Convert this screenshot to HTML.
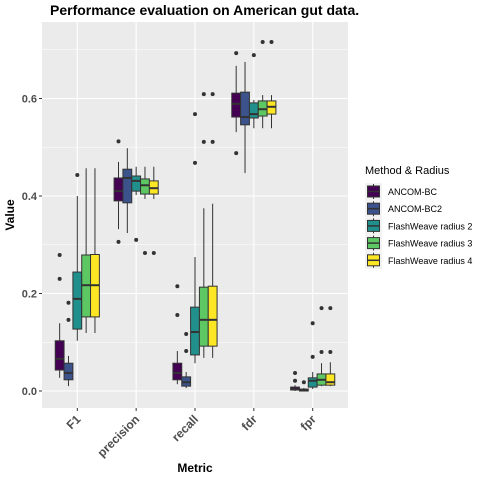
<!DOCTYPE html>
<html><head><meta charset="utf-8"><style>
body{margin:0;background:#fff;font-family:"Liberation Sans",sans-serif}
</style></head><body>
<svg id="c" width="480" height="480" xmlns="http://www.w3.org/2000/svg"></svg>
<script>
const categories=["F1","precision","recall","fdr","fpr"];
const methods=["ANCOM-BC","ANCOM-BC2","FlashWeave radius 2","FlashWeave radius 3","FlashWeave radius 4"];
const colors=["#440154","#3B528B","#21908C","#5DC863","#FDE725"];
const yTicks=[0,0.2,0.4,0.6];
// [whiskerLow, q1, median, q3, whiskerHigh] per category per method
const statsF1=[[0.027,0.043,0.066,0.103,0.139],[0.010,0.023,0.037,0.057,0.072],[0.103,0.127,0.189,0.244,0.400],[0.119,0.152,0.217,0.279,0.457],[0.119,0.152,0.217,0.280,0.457]];
const statsPrecision=[[0.332,0.390,0.410,0.437,0.470],[0.324,0.386,0.437,0.455,0.498],[0.402,0.410,0.431,0.441,0.460],[0.394,0.404,0.422,0.435,0.460],[0.394,0.404,0.416,0.431,0.460]];
const statsRecall=[[0.014,0.023,0.037,0.057,0.082],[0.006,0.010,0.018,0.029,0.039],[0.057,0.074,0.121,0.172,0.275],[0.068,0.092,0.146,0.213,0.375],[0.068,0.092,0.146,0.215,0.384]];
const statsFdr=[[0.531,0.562,0.589,0.611,0.667],[0.447,0.546,0.562,0.613,0.675],[0.539,0.560,0.568,0.591,0.597],[0.539,0.564,0.578,0.595,0.607],[0.539,0.568,0.583,0.595,0.607]];
const statsFpr=[[0.0,0.002,0.004,0.008,0.012],[0.0,0.0,0.002,0.004,0.006],[0.004,0.008,0.021,0.027,0.039],[0.010,0.012,0.023,0.035,0.057],[0.010,0.012,0.018,0.035,0.059]];
const outF1=[[0.279,0.230],[0.181,0.146],[0.443],[],[]];
const outPrecision=[[0.512,0.306],[],[0.310],[0.283],[0.283]];
const outRecall=[[0.215,0.156],[0.117,0.082],[0.568,0.468],[0.609,0.511],[0.609,0.511]];
const outFdr=[[0.693,0.488],[],[0.689],[0.716],[0.716]];
const outFpr=[[0.037,0.021],[0.018],[0.139,0.070],[0.170,0.080],[0.170,0.080]];
const allStats=[statsF1,statsPrecision,statsRecall,statsFdr,statsFpr];
const allOut=[outF1,outPrecision,outRecall,outFdr,outFpr];

const svg=document.getElementById('c');
const NS="http://www.w3.org/2000/svg";
function mk(t,a,p){const e=document.createElementNS(NS,t);for(const k in a)e.setAttribute(k,a[k]);(p||svg).appendChild(e);return e;}
const L=42,R=348,T=22,B=408;
const unit=(R-L)/(categories.length-1+1.2);
const x=i=>L+(i+0.6)*unit;
const y=v=>391-v*487.5;
const bg=mk('rect',{x:L,y:T,width:R-L,height:B-T,fill:'#EBEBEB'});


for(let v=-0.1;v<=0.75;v+=0.2){const yy=y(v);if(yy>T&&yy<B){const g=mk('line',{x1:L,x2:R,y1:yy,y2:yy,stroke:'#fff','stroke-width':0.5});}}
yTicks.forEach(v=>{const g=mk('line',{x1:L,x2:R,y1:y(v),y2:y(v),stroke:'#fff','stroke-width':1.1});

mk('line',{x1:L-3,x2:L,y1:y(v),y2:y(v),stroke:'#333'});
const t=mk('text',{x:L-5,y:y(v)+4,'text-anchor':'end','font-size':11,'font-weight':'bold',fill:'#4D4D4D'});t.textContent=v.toFixed(1);
});
categories.forEach((c,i)=>{const g=mk('line',{x1:x(i),x2:x(i),y1:T,y2:B,stroke:'#fff','stroke-width':1.1});

mk('line',{x1:x(i),x2:x(i),y1:B,y2:B+3,stroke:'#333'});
const t=mk('text',{x:x(i)+4,y:B+12,'text-anchor':'end','font-size':12,'font-weight':'bold',fill:'#4D4D4D',transform:`rotate(-45 ${x(i)+4} ${B+12})`});t.textContent=c;
});
const bw=unit*0.75/methods.length;
allStats.forEach((cs,i)=>{cs.forEach((s,m)=>{
 const cx=x(i)+(m-2)*bw;
 const g=mk('g',{});
 
 
 mk('line',{x1:cx,x2:cx,y1:y(s[0]),y2:y(s[4]),stroke:'#333','stroke-width':1},g);
 mk('rect',{x:cx-bw/2,y:y(s[3]),width:bw,height:Math.max(0.5,y(s[1])-y(s[3])),fill:colors[m],stroke:'#333','stroke-width':1},g);
 mk('line',{x1:cx-bw/2,x2:cx+bw/2,y1:y(s[2]),y2:y(s[2]),stroke:'#333','stroke-width':2},g);
 allOut[i][m].forEach(o=>{const d=mk('circle',{cx:cx,cy:y(o),r:2,fill:'#333'},g);
 });
});});
const ti=mk('text',{x:50,y:15,'font-size':14,'font-weight':'bold',fill:'#000'});ti.textContent='Performance evaluation on American gut data.';

const yl=mk('text',{x:14,y:215,'font-size':12,'font-weight':'bold','text-anchor':'middle',transform:'rotate(-90 14 215)'});yl.textContent='Value';

const xl=mk('text',{x:195,y:472,'font-size':12,'font-weight':'bold','text-anchor':'middle'});xl.textContent='Metric';

const lt=mk('text',{x:365,y:174,'font-size':11});lt.textContent='Method & Radius';

methods.forEach((m,k)=>{const yy=183+k*17.2;const g=mk('g',{});

mk('rect',{x:365,y:yy,width:17,height:17,fill:'#F2F2F2'},g);
mk('line',{x1:373.5,x2:373.5,y1:yy+1,y2:yy+16,stroke:'#333'},g);
mk('rect',{x:367.5,y:yy+3,width:12,height:11,fill:colors[k],stroke:'#333'},g);
mk('line',{x1:367.5,x2:379.5,y1:yy+8.5,y2:yy+8.5,stroke:'#333','stroke-width':1.5},g);
const t=mk('text',{x:388,y:yy+12,'font-size':9},g);t.textContent=m;});
</script>
</body></html>
